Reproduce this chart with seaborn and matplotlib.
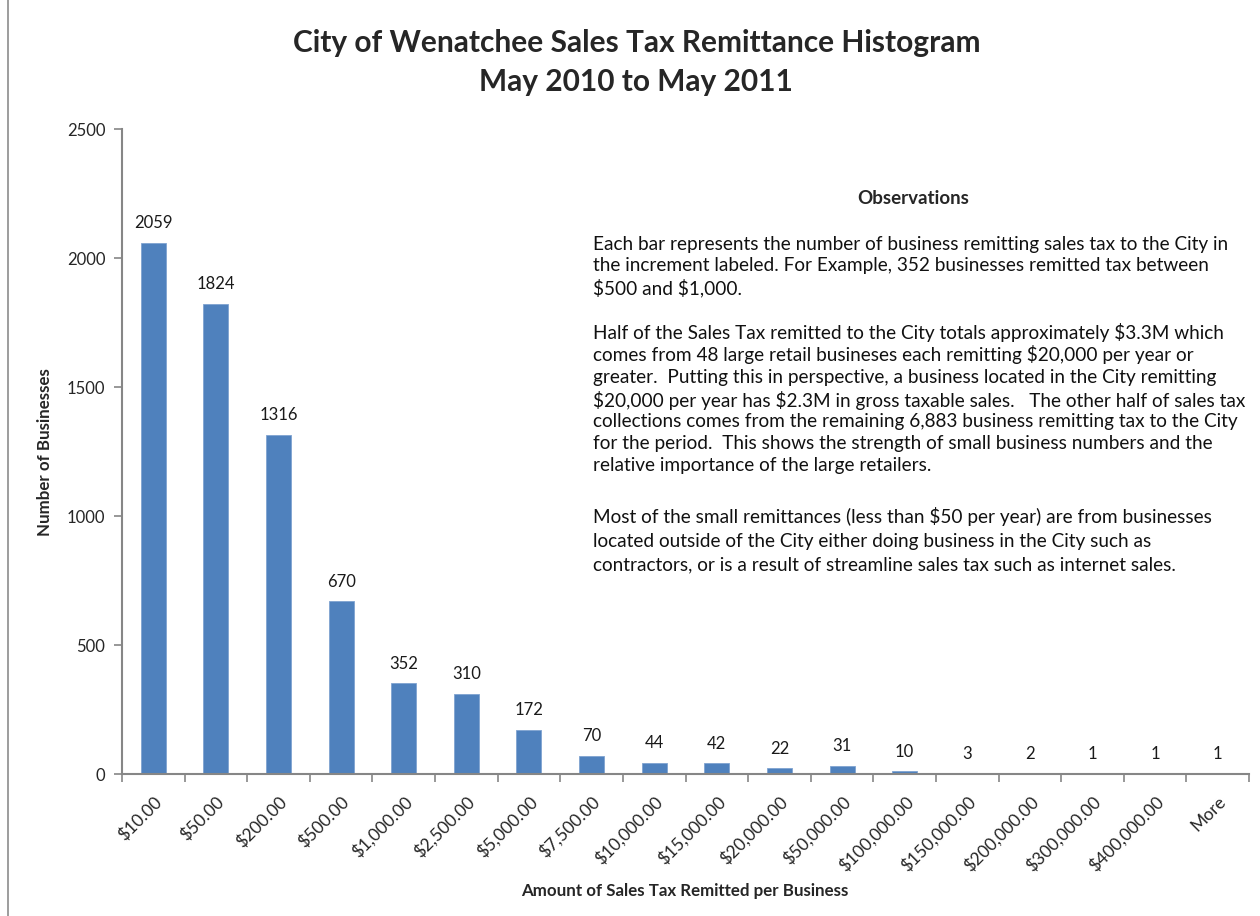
import matplotlib
matplotlib.use("Agg")
import matplotlib.pyplot as plt
import seaborn as sns
import pandas as pd
from matplotlib.patches import Rectangle

# data
bins = ["$10.00", "$50.00", "$200.00", "$500.00", "$1,000.00", "$2,500.00",
        "$5,000.00", "$7,500.00", "$10,000.00", "$15,000.00", "$20,000.00",
        "$50,000.00", "$100,000.00", "$150,000.00", "$200,000.00",
        "$300,000.00", "$400,000.00", "More"]
counts = [2059, 1824, 1316, 670, 352, 310, 172, 70, 44, 42, 22, 31, 10, 3, 2, 1, 1, 1]
y_ticks = [0, 500, 1000, 1500, 2000, 2500]

title = "City of Wenatchee Sales Tax Remittance Histogram\nMay 2010 to May 2011"
obs_title = "Observations"
obs_paras = [
    ["Each bar represents the number of business remitting sales tax to the City in",
     "the increment labeled. For Example, 352 businesses remitted tax between",
     "$500 and $1,000."],
    ["Half of the Sales Tax remitted to the City totals approximately $3.3M which",
     "comes from 48 large retail busineses each remitting $20,000 per year or",
     "greater.  Putting this in perspective, a business located in the City remitting",
     "$20,000 per year has $2.3M in gross taxable sales.   The other half of sales tax",
     "collections comes from the remaining 6,883 business remitting tax to the City",
     "for the period.  This shows the strength of small business numbers and the",
     "relative importance of the large retailers."],
    ["Most of the small remittances (less than $50 per year) are from businesses",
     "located outside of the City either doing business in the City such as",
     "contractors, or is a result of streamline sales tax such as internet sales."],
]

df = pd.DataFrame({"bin": bins, "count": counts})

sns.set_style("white")
plt.rcParams["font.family"] = ["Lato", "DejaVu Sans"]
plt.rcParams["text.parse_math"] = False

W, H = 1260, 916
fig = plt.figure(figsize=(W / 100, H / 100), dpi=100)
ax = fig.add_axes([0.0968, 0.155, 0.8945, 0.704])

sns.barplot(data=df, x="bin", y="count", color="#4F81BD", width=0.4,
            saturation=1, edgecolor="#7FA3D0", linewidth=0.6, ax=ax)

ax.set_ylim(0, 2500)
ax.set_xlim(-0.5, len(bins) - 0.5)
ax.set_yticks(y_ticks)
ax.set_yticklabels([str(t) for t in y_ticks], fontsize=12)

for i, c in enumerate(counts):
    ax.text(i, c + 45, str(c), ha="center", va="bottom", fontsize=12, color="#1a1a1a")

ax.set_xticks(range(len(bins)))
ax.set_xticklabels(bins, rotation=45, ha="right", rotation_mode="anchor", fontsize=12.5)
# excel puts ticks between categories
ax.set_xticks([i - 0.5 for i in range(len(bins) + 1)], minor=True)
ax.tick_params(axis="x", which="major", bottom=True, length=0, pad=14)
ax.tick_params(axis="x", which="minor", bottom=True, length=6, color="#868686", width=1.2)
ax.tick_params(axis="y", left=True, length=6, color="#868686", width=1.2, pad=6)

for s in ["top", "right"]:
    ax.spines[s].set_visible(False)
for s in ["left", "bottom"]:
    ax.spines[s].set_color("#868686")
    ax.spines[s].set_linewidth(1.5)

ax.set_xlabel("Amount of Sales Tax Remitted per Business", fontsize=12.2,
              fontweight="bold")
ax.set_ylabel("Number of Businesses", fontsize=12.2, fontweight="bold")
ax.xaxis.set_label_coords(0.499, -0.169)
ax.yaxis.set_label_coords(-0.061, 0.5)

fig.text(0.505, 0.968, title, ha="center", va="top", fontsize=21.5,
         fontweight="bold", linespacing=1.45)

fig.text(913 / W, 1 - 199 / H, obs_title, ha="center", va="center", fontsize=13.5,
         fontweight="bold")
line_y = [[244, 266, 288],
          [333, 355, 377, 400, 422, 444, 466],
          [517, 541, 565]]
for lines, ys in zip(obs_paras, line_y):
    for txt, y in zip(lines, ys):
        fig.text(593 / W, 1 - y / H, txt, ha="left", va="center", fontsize=13.7,
                 color="#111111")

# outer chart frame
fig.patches.append(Rectangle((8 / W, -0.2), 1.2, 1.5, transform=fig.transFigure,
                             fill=False, edgecolor="#8c8c8c", linewidth=1.2))

fig.savefig("out.png", dpi=100)
